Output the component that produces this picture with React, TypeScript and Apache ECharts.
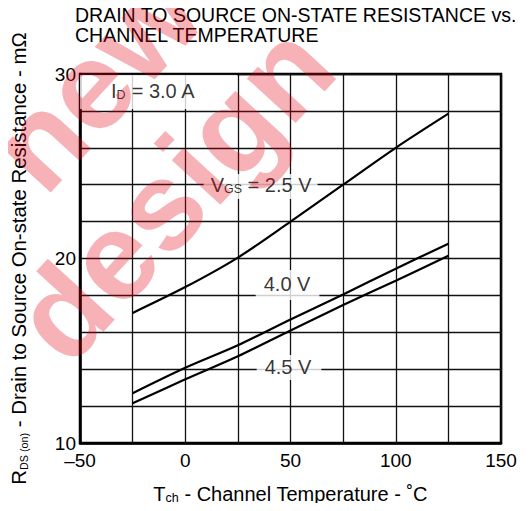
import React, { useEffect, useRef } from "react";
import * as echarts from "echarts";

// Channel temperature (°C) sample points
const temps = [-25, 0, 25, 50, 75, 100, 125];
// RDS(on) in mΩ for each gate voltage
const vgs25 = [17.05, 18.45, 20.05, 22.0, 24.0, 26.0, 27.85];
const vgs40 = [12.7, 14.08, 15.3, 16.7, 18.05, 19.45, 20.8];
const vgs45 = [12.15, 13.45, 14.7, 16.1, 17.48, 18.8, 20.15];

const xTickLabels = [-50, 0, 50, 100, 150];
const yTickLabels = [10, 20, 30];

// Annotation anchors (data coordinates) and texts
const annotations = [
  { at: [-12.7, 29.02], text: "{n|I}{s|D}{n| = 3.0 A}", padding: [8, 42, 8, 31] },
  { at: [35.8, 23.9], text: "{n|V}{s|GS}{n| = 2.5 V}", padding: [3, 6, 4, 7] },
  { at: [48.6, 18.56], text: "{n|4.0 V}", padding: [6, 9, 6, 8] },
  { at: [49.3, 14.09], text: "{n|4.5 V}", padding: [4, 10, 3, 8] },
];

const FONT = "'Liberation Sans', Arial, sans-serif";
const WM = "rgba(230,0,18,0.3)";

export default function App() {
  const ref = useRef<HTMLDivElement>(null);
  useEffect(() => {
    if (!ref.current) return;
    const chart = echarts.init(ref.current, undefined, { renderer: "svg" });
    const mk = (vals: number[]) => temps.map((t, i) => [t, vals[i]]);
    const lineSeries = (name: string, vals: number[]) => ({
      name,
      type: "line",
      data: mk(vals),
      smooth: 0.3,
      showSymbol: false,
      symbol: "none",
      z: 5,
      lineStyle: { color: "#000", width: 2.2 },
    });
    const rich = {
      n: { fontSize: 20, fontFamily: FONT, color: "#000", lineHeight: 18, verticalAlign: "bottom" },
      s: { fontSize: 12.5, fontFamily: FONT, color: "#000", lineHeight: 14, verticalAlign: "bottom" },
    };
    const richY = {
      n: { fontSize: 20.4, fontFamily: FONT, color: "#000", lineHeight: 18, verticalAlign: "bottom" },
      s: { fontSize: 10.8, fontFamily: FONT, color: "#000", lineHeight: 12, verticalAlign: "bottom" },
    };
    const wm = (text: string, x: number, y: number) => ({
      type: "text",
      z: 100,
      x,
      y,
      rotation: (47.4 * Math.PI) / 180,
      silent: true,
      style: {
        text,
        fontSize: 125,
        fontWeight: "bold",
        fontFamily: FONT,
        fill: WM,
        align: "center",
        verticalAlign: "middle",
      },
    });
    chart.setOption({
      animation: false,
      backgroundColor: "#fff",
      title: {
        text: "DRAIN TO SOURCE ON-STATE RESISTANCE vs.\nCHANNEL TEMPERATURE",
        left: 75,
        top: 5,
        padding: 0,
        textStyle: { fontSize: 19.5, fontWeight: "normal", color: "#000", fontFamily: FONT, lineHeight: 20 },
      },
      grid: {
        left: 80,
        right: 28,
        top: 74,
        bottom: 68,
        show: true,
        borderColor: "#000",
        borderWidth: 2.5,
        backgroundColor: "transparent",
      },
      xAxis: {
        type: "value",
        min: -50,
        max: 150,
        interval: 25,
        axisLine: { show: true, onZero: false, lineStyle: { color: "#000", width: 2.5 } },
        axisTick: { show: false },
        splitLine: { show: true, lineStyle: { color: "#111", width: 1.3 } },
        axisLabel: {
          color: "#000",
          fontSize: 19,
          fontFamily: FONT,
          margin: 8,
          formatter: (v: number) =>
            xTickLabels.includes(v) ? (v < 0 ? "\u2013" + Math.abs(v) : String(v)) : "",
        },
        name: "{n|T}{s|ch}{n| - Channel Temperature - \u02DAC}",
        nameLocation: "middle",
        nameGap: 43,
        nameTextStyle: { rich },
      },
      yAxis: {
        type: "value",
        min: 10,
        max: 30,
        interval: 2,
        axisLine: { show: true, onZero: false, lineStyle: { color: "#000", width: 2.5 } },
        axisTick: { show: false },
        splitLine: { show: true, lineStyle: { color: "#111", width: 1.3 } },
        axisLabel: {
          color: "#000",
          fontSize: 19,
          fontFamily: FONT,
          margin: 4,
          formatter: (v: number) => (yTickLabels.includes(v) ? String(v) : ""),
        },
        name: "{n|R}{s|DS (on)}{n| - Drain to Source On-state Resistance - m\u03A9}",
        nameLocation: "middle",
        nameGap: 51,
        nameTextStyle: { rich: richY },
      },
      graphic: [wm("design", 173, 192), wm("new", 95, 80)],
      series: [
        {
          type: "scatter",
          z: 3,
          symbolSize: 1,
          itemStyle: { color: "rgba(0,0,0,0)" },
          silent: true,
          data: annotations.map((a) => ({
            value: a.at,
            label: {
              show: true,
              position: "inside",
              formatter: a.text,
              backgroundColor: "#fff",
              padding: a.padding,
              rich,
            },
          })),
        },
        lineSeries("2.5 V", vgs25),
        lineSeries("4.0 V", vgs40),
        lineSeries("4.5 V", vgs45),
      ],
    });
    return () => chart.dispose();
  }, []);
  return <div ref={ref} style={{ width: 529, height: 511, margin: -8 }} />;
}
